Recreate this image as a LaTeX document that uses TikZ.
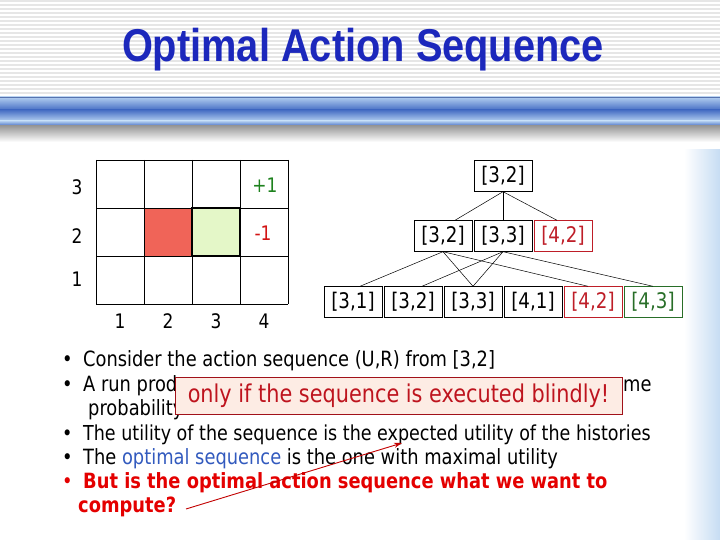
\documentclass[tikz,border=0pt]{standalone}
\usepackage{fontspec}
\setmainfont[FakeStretch=0.85]{DejaVu Sans}
\newfontfamily\titlefont[FakeStretch=0.865]{Liberation Sans}
\usetikzlibrary{arrows,arrows.meta,positioning}

\definecolor{titleblue}{RGB}{28,40,188}
\definecolor{barlight}{RGB}{178,206,240}
\definecolor{bardark}{RGB}{70,110,196}
\definecolor{stripe}{RGB}{230,230,230}
\definecolor{cellred}{RGB}{240,100,88}
\definecolor{cellgreen}{RGB}{228,247,200}
\definecolor{plusgreen}{RGB}{30,130,30}
\definecolor{minusred}{RGB}{210,20,20}
\definecolor{treered}{RGB}{190,30,40}
\definecolor{treegreen}{RGB}{40,110,40}
\definecolor{popfill}{RGB}{253,236,228}
\definecolor{popred}{RGB}{190,20,30}
\definecolor{optblue}{RGB}{50,90,190}
\definecolor{boldred}{RGB}{228,0,0}
\definecolor{edgeblue}{RGB}{198,220,243}

\newcommand{\itm}{\makebox[21pt][l]{\textbullet}}

\begin{document}
\begin{tikzpicture}[x=1pt,y=-1pt,>=stealth',node distance=60pt,on grid,
    lbl/.style={font=\fontsize{20}{22}\selectfont},
    box/.style={draw,minimum width=58pt,minimum height=31pt,inner sep=0pt,font=\fontsize{21.5}{24}\selectfont},
    line/.style={anchor=west,inner sep=0pt,font=\fontsize{21}{24}\selectfont}]
\useasboundingbox (0,0) rectangle (720,540);
% background
\foreach \y in {1,5,...,93}
  \draw[stripe,line width=1.6pt] (0,\y) -- (720,\y);
\fill[top color=barlight,bottom color=bardark] (0,97) rectangle (720,110);
\fill[top color=bardark,bottom color=barlight] (0,110) rectangle (720,121);
\fill[top color=barlight,bottom color=bardark] (0,121) rectangle (720,126);
\fill[top color=gray!80,bottom color=white] (0,126) rectangle (720,142);
\draw[bardark!70!gray,line width=0.6pt] (0,97) -- (720,97);
\fill[left color=white,right color=edgeblue] (684,150) rectangle (720,540);

% title
\node[text=titleblue,font=\titlefont\bfseries\fontsize{46}{50}\selectfont] (title) at (363,50) {Optimal Action Sequence};

% grid world
\fill[cellred] (144,208) rectangle (192,256);
\fill[cellgreen] (192,208) rectangle (240,256);
\foreach \x in {96,144,...,288}
  \draw[line width=0.8pt] (\x,160) -- (\x,304);
\foreach \y in {160,208,...,304}
  \draw[line width=0.8pt] (96,\y) -- (288,\y);
\draw[line width=1.6pt] (192,208) rectangle (240,256);
\foreach \r/\y in {3/187,2/236,1/279}
  \node[lbl] (row\r) at (77,\y) {\r};
\foreach \c/\x in {1/120,2/168,3/216,4/264}
  \node[lbl] (col\c) at (\x,321) {\c};
\node[lbl,text=plusgreen] (plus) at (265,185) {+1};
\node[lbl,text=minusred] (minus) at (263,233) {-1};

% tree
\node[box] (r)  at (503,176) {[3,2]};
\node[box] (b2) [below =of r] {[3,3]};
\node[box] (b1) [left =of b2] {[3,2]};
\node[box,draw=treered,text=treered] (b3) [right =of b2] {[4,2]};
\node[box] (c1) at (353,302) {[3,1]};
\node[box] (c2) [right =of c1] {[3,2]};
\node[box] (c3) [right =of c2] {[3,3]};
\node[box] (c4) [right =of c3] {[4,1]};
\node[box,draw=treered,text=treered] (c5) [right =of c4] {[4,2]};
\node[box,draw=treegreen,text=treegreen] (c6) [right =of c5] {[4,3]};
\draw[line width=0.5pt] (r.south) -- ([xshift=12pt]b1.north);
\draw[line width=0.5pt] (r.south) -- (b2.north);
\draw[line width=0.5pt] (r.south) -- ([xshift=-6pt]b3.north);
\draw[line width=0.5pt] (b1.south) -- ([xshift=7pt]c1.north);
\draw[line width=0.5pt] (b1.south) -- (c3.north);
\draw[line width=0.5pt] (b1.south) -- ([xshift=-5pt]c5.north);
\draw[line width=0.5pt] (b2.south) -- ([xshift=9pt]c2.north);
\draw[line width=0.5pt] (b2.south) -- (c3.north);
\draw[line width=0.5pt] (b2.south) -- (c6.north);

% bullets
\node[line] (l1) at (62,361) {\itm Consider the action sequence (U,R) from [3,2]};
\node[line] (l2) at (62,386) {\itm A run prod};
\node[line] (l2b) at (623,386) {me};
\node[line] (l2c) at (88,410) {probability};
\node[line,font=\fontsize{20.6}{24}\selectfont] (l3) at (62,435) {\itm The utility of the sequence is the expected utility of the histories};
\node[line] (l4) at (62,459) {\itm The \textcolor{optblue}{optimal sequence} is the one with maximal utility};
\node[line,text=boldred] (l5) at (62,483) {\itm\textbf{But is the optimal action sequence what we want to}};
\node[line,text=boldred,font=\fontsize{21}{24}\selectfont\bfseries] (cmp) at (78,507) {compute?};

% popup
\node[draw=popred!85!black,fill=popfill,text=popred,line width=0.6pt,minimum width=447pt,minimum height=37pt,
      inner sep=0pt,font=\fontsize{24.5}{28}\selectfont] (pop) at (398.5,395.5) {only if the sequence is executed blindly!};

% arrow
\coordinate (tail) at (186,509);
\coordinate (tip) at (402,443);
\draw[-{Stealth[length=8pt,width=5pt]},boldred!85!black,line width=0.9pt] (tail) -- (tip);
\end{tikzpicture}
\end{document}
